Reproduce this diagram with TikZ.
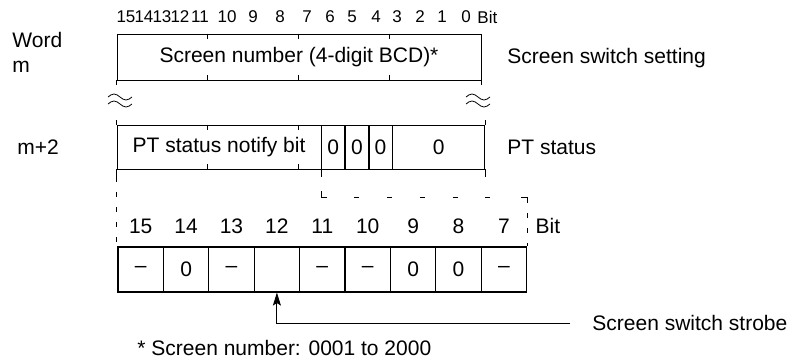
\documentclass[tikz,border=0pt]{standalone}
\usepackage{fontspec}
\setsansfont{Liberation Sans}
\usetikzlibrary{arrows.meta}

\begin{document}
\begin{tikzpicture}[
        x=1pt, y=-1pt,
        >={Stealth[length=13pt, width=8pt, inset=2.5pt]},
        line width=0.9pt,
        font=\sffamily\fontsize{21}{25}\selectfont,
        % register and cell styles
        regbox/.style={draw, rectangle, minimum height=46pt, inner sep=0pt},
        cell/.style={draw, rectangle, line width=1.1pt, minimum width=45.4pt, minimum height=45pt, inner sep=0pt},
        bitnum/.style={font=\sffamily\fontsize{17}{20}\selectfont, inner sep=0pt},
        plain/.style={inner sep=0pt, anchor=west},
        vdash/.style={dash pattern=on 5pt off 10pt},
        hdash/.style={dash pattern=on 5pt off 27.7pt}
    ]
    \useasboundingbox (0,0) rectangle (792,362);

    % ==========================================
    % 1. WORD m (SCREEN SWITCH SETTING)
    % ==========================================
    \foreach \n/\x in {15/126,14/144,13/162,12/180,11/200,10/227,9/253,8/280,
                       7/307,6/330,5/352,4/376,3/397,2/420,1/442,0/466}
        \node[bitnum] (t\n) at (\x,17) {\n};
    \node[bitnum, anchor=west] (tbit) at (477,17) {Bit};

    \node[plain, align=left] (word) at (12,52) {Word\\m};

    \node[regbox, minimum width=364pt] (scrnum) at (299,57) {Screen number (4-digit BCD)*};
    \node[plain] (setting) at (507,58) {Screen switch setting};

    % nibble ticks
    \foreach \k in {4,8,12} {
        \draw ([xshift=\k*22.75pt]scrnum.north west) -- ++(0,5);
        \draw ([xshift=\k*22.75pt]scrnum.south west) -- ++(0,-5);
    }
    \draw (scrnum.south west) -- ++(0,5);
    \draw (scrnum.south east) -- ++(0,5);

    % break marks
    \foreach \x in {120,478}
        \foreach \y in {97,104}
            \draw[line width=0.8pt] (\x-12,\y) sin (\x-6,\y-3) cos (\x,\y) sin (\x+6,\y+3) cos (\x+12,\y);

    % ==========================================
    % 2. WORD m+2 (PT STATUS)
    % ==========================================
    \node[plain] (mtwo) at (17,147) {m+2};

    \node[regbox, minimum width=204pt, minimum height=44pt] (notify) at (219,147) {PT status notify bit};
    \node[regbox, minimum width=22.75pt, minimum height=44pt, anchor=west] (b6) at (notify.east) {0};
    \node[regbox, minimum width=22.75pt, minimum height=44pt, anchor=west] (b5) at (b6.east) {0};
    \node[regbox, minimum width=22.75pt, minimum height=44pt, anchor=west] (b4) at (b5.east) {0};
    \node[regbox, minimum width=91.75pt, minimum height=44pt, anchor=west] (b30) at (b4.east) {0};
    \node[plain] (status) at (507,147) {PT status};

    \foreach \k in {4,8} {
        \draw ([xshift=\k*22.75pt]notify.north west) -- ++(0,5);
        \draw ([xshift=\k*22.75pt]notify.south west) -- ++(0,-5);
    }
    \draw (notify.north west) -- ++(0,-5);
    \draw (b30.north east) -- ++(0,-5);
    \draw (notify.south west) -- ++(0,8);
    \draw (b30.south east) -- ++(0,8);
    \draw (notify.south east) -- ++(0,8);

    % ==========================================
    % 3. BITS 15 TO 7 OF m+2
    % ==========================================
    \foreach \v [count=\i] in {–,0,–,{},–,–,0,0,–} {
        \pgfmathtruncatemacro{\b}{16-\i}
        \node[cell] (c\i) at ({118+45.4*(\i-0.5)},269.5) {\v};
        \node[inner sep=0pt] (l\i) at ([yshift=20pt]c\i.north) {\b};
    }
    \node[plain] (lbit) at ([xshift=8pt,yshift=20pt]c9.north east) {Bit};

    % dashed expansion lines
    \coordinate (kneeL) at ([yshift=-28pt]notify.south east);
    \coordinate (kneeR) at (kneeL -| c9.north east);
    \draw[vdash] ([yshift=-8pt]notify.south west) -- (notify.south west |- c1.north);
    \draw ([yshift=6pt]kneeL) -- (kneeL) -- ([xshift=6pt]kneeL);
    \draw[hdash] ([xshift=33pt]kneeL) -- ([xshift=-12pt]kneeR);
    \draw ([xshift=-6pt]kneeR) -- (kneeR) -- ([yshift=-6pt]kneeR);
    \draw[vdash] ([yshift=-16pt]kneeR) -- (c9.north east);

    % strobe arrow
    \node[plain] (strobe) at (592,323) {Screen switch strobe};
    \draw[->] ([xshift=-22pt]strobe.west) -| (c4.south);

    % footnote
    \node[plain] (note) at (137,348) {* Screen number: 0001 to 2000};

\end{tikzpicture}
\end{document}
